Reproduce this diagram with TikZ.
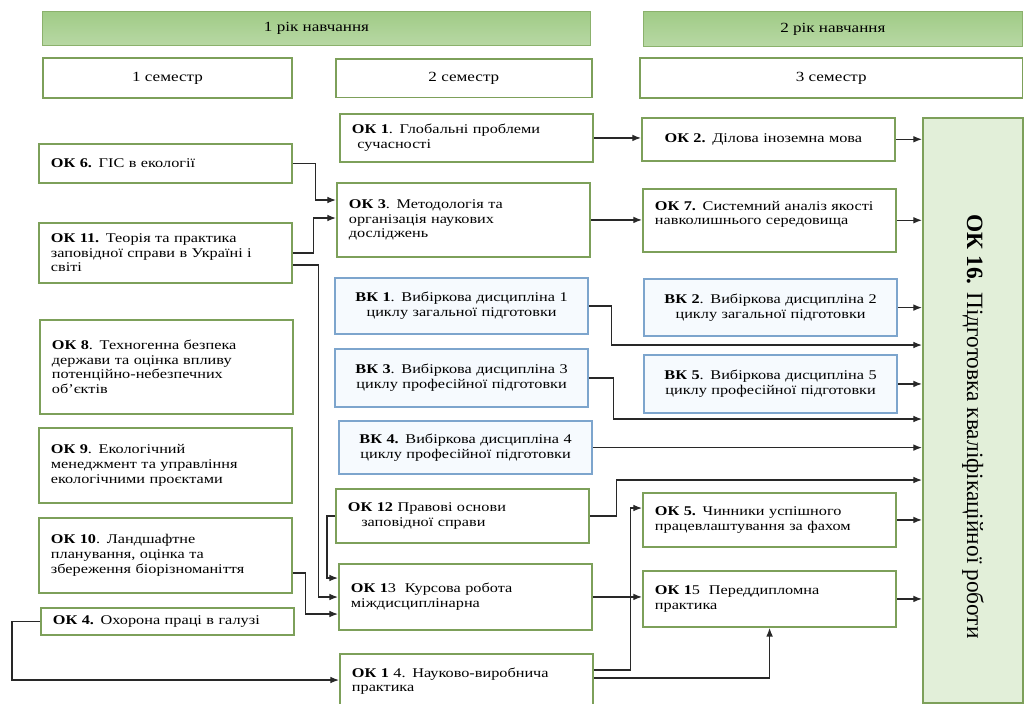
\documentclass[tikz,border=0pt]{standalone}
\usepackage{fontspec}
\usepackage{graphicx}
\setmainfont{Liberation Serif}
\newfontfamily\boxfont{Liberation Serif}[FakeStretch=1.22]
\usetikzlibrary{arrows.meta}
\definecolor{okgreen}{RGB}{125,160,90}
\definecolor{vkblue}{RGB}{125,165,205}
\definecolor{vkfill}{RGB}{246,250,254}
\definecolor{yeargreen}{RGB}{160,203,134}
\definecolor{finalfill}{RGB}{226,239,217}
\definecolor{linegray}{RGB}{40,40,40}
\begin{document}
\begin{tikzpicture}[x=0.75pt,y=-0.75pt,
    every node/.style={inner sep=0pt},
    yearbar/.style={draw=okgreen!60!yeargreen,line width=0.8pt,top color=yeargreen,bottom color=yeargreen!75!white,anchor=north west,font=\boxfont\fontsize{10.5}{12}\selectfont},
    sembox/.style={draw=okgreen,line width=1.3pt,fill=white,anchor=north west,font=\boxfont\fontsize{10.5}{12}\selectfont},
    okbox/.style={draw=okgreen,line width=1.4pt,fill=white,anchor=north west,align=left,text width=172pt,inner xsep=9pt,font=\boxfont\fontsize{10}{11}\selectfont},
    vkbox/.style={okbox,draw=vkblue,fill=vkfill,align=center},
    finalbox/.style={draw=okgreen,line width=1.4pt,fill=finalfill,anchor=north west,minimum width=75pt,minimum height=439pt,font=\fontsize{17.5}{20}\selectfont},
    arr/.style={draw=linegray,line width=0.9pt,-{Latex[length=6.5pt,width=5pt]}}]
    \useasboundingbox (0,0) rectangle (1026,704);

    % years and semesters
    \node[yearbar,minimum width=411pt,minimum height=25.5pt] at (42,11) (year1) {1 рік навчання};
    \node[yearbar,minimum width=284pt,minimum height=26pt] at (643,11) (year2) {2 рік навчання};
    \node[sembox,minimum width=187pt,minimum height=30pt] at (42,57) (sem1) {1 семестр};
    \node[sembox,minimum width=192pt,minimum height=29pt] at (335,58) (sem2) {2 семестр};
    \node[sembox,minimum width=287pt,minimum height=30pt] at (639,57) (sem3) {3 семестр};

    % 1 semester
    \node[okbox,minimum height=29pt] at (38,143) (ok6) {\textbf{ОК 6.} ГІС в екології};
    \node[okbox,minimum height=45pt] at (38,222) (ok11) {\textbf{ОК 11.} Теорія та практика\\ заповідної справи в Україні і\\ світі};
    \node[okbox,minimum height=70.5pt] at (39,319) (ok8) {\textbf{ОК 8}. Техногенна безпека\\ держави та оцінка впливу\\ потенційно-небезпечних\\ об’єктів};
    \node[okbox,minimum height=56pt] at (38,427) (ok9) {\textbf{ОК 9}. Екологічний\\ менеджмент та управління\\ екологічними проєктами};
    \node[okbox,minimum height=56pt] at (38,517) (ok10) {\textbf{ОК 10}. Ландшафтне\\ планування, оцінка та\\ збереження біорізноманіття};
    \node[okbox,minimum height=20pt] at (40,607) (ok4) {\textbf{ОК 4.} Охорона праці в галузі};

    % 2 semester
    \node[okbox,minimum height=36pt] at (339,113) (ok1) {\textbf{ОК 1}. Глобальні проблеми\\ \hspace*{4pt}сучасності};
    \node[okbox,minimum height=55.5pt] at (336,182) (ok3) {\textbf{ОК 3}. Методологія та\\ організація наукових\\ досліджень};
    \node[vkbox,minimum height=42pt] at (334,277) (vk1) {\textbf{ВК 1}. Вибіркова дисципліна 1\\ циклу загальної підготовки};
    \node[vkbox,minimum height=43.5pt] at (334,348) (vk3) {\textbf{ВК 3}. Вибіркова дисципліна 3\\ циклу професійної підготовки};
    \node[vkbox,minimum height=40pt] at (338,420) (vk4) {\textbf{ВК 4.} Вибіркова дисципліна 4\\ циклу професійної підготовки};
    \node[okbox,minimum height=40.5pt] at (335,488) (ok12) {\textbf{ОК 12} Правові основи\\ \hspace*{10pt}заповідної справи};
    \node[okbox,minimum height=49.5pt] at (338,563) (ok13) {\textbf{ОК 1}3\ \ Курсова робота\\ міждисциплінарна};
    \node[okbox,minimum height=41pt] at (339,653) (ok14) {\textbf{ОК 1} 4. Науково-виробнича\\ практика};

    % 3 semester
    \node[okbox,minimum height=32pt] at (641,117) (ok2) {\hspace*{8pt}\textbf{ОК 2.} Ділова іноземна мова};
    \node[okbox,minimum height=47pt] at (642,188) (ok7) {\textbf{ОК 7.} Системний аналіз якості\\ навколишнього середовища\\ \mbox{}};
    \node[vkbox,minimum height=43pt] at (643,278) (vk2) {\textbf{ВК 2}. Вибіркова дисципліна 2\\ циклу загальної підготовки};
    \node[vkbox,minimum height=43.5pt] at (643,354) (vk5) {\textbf{ВК 5}. Вибіркова дисципліна 5\\ циклу професійної підготовки};
    \node[okbox,minimum height=40.5pt] at (642,492) (ok5) {\textbf{ОК 5.} Чинники успішного\\ працевлаштування за фахом};
    \node[okbox,minimum height=42pt] at (642,570) (ok15) {\textbf{ОК 1}5\ \ Переддипломна\\ практика};

    \node[finalbox] at (922,117) (ok16) {\rotatebox{-90}{\hspace*{24pt}\textbf{ОК 16.} Підготовка кваліфікаційної роботи}};

    % links
    \draw[arr] (ok6.east) -- ++(22,0) |- (ok3.west |- 0,200);
    \draw[arr] (ok11.east |- 0,253) -- ++(20,0) |- (ok3.west |- 0,218);
    \draw[arr] (ok11.east |- 0,265) -- ++(25,0) |- (ok13.west |- 0,597);
    \draw[arr] (ok12.west) -- ++(-8,0) |- (ok13.west |- 0,578);
    \draw[arr] (ok10.east |- 0,573) -- ++(12,0) |- (ok13.west |- 0,614);
    \draw[arr] (ok4.west) -- ++(-28,0) |- (ok14.west |- 0,680);

    \draw[arr] (ok1.east) -- (ok1.east -| ok2.west);
    \draw[arr] (ok3.east) -- (ok3.east -| ok7.west);
    \draw[arr] (ok13.east) -- (ok13.east -| ok15.west);
    \draw[arr] (ok14.east |- 0,670) -- ++(36,0) |- (ok5.west |- 0,508);
    \draw[arr] (ok14.east |- 0,678) -| (ok15.south);

    \draw[arr] (vk1.east) -- ++(22,0) |- (ok16.west |- 0,345);
    \draw[arr] (vk3.east) -- ++(24,0) |- (ok16.west |- 0,419);
    \draw[arr] (vk4.east) -- (vk4.east -| ok16.west);
    \draw[arr] (ok12.east) -- ++(26,0) |- (ok16.west |- 0,480);

    \draw[arr] (ok2.east) -- (ok2.east -| ok16.west);
    \draw[arr] (ok7.east) -- (ok7.east -| ok16.west);
    \draw[arr] (vk2.east) -- (vk2.east -| ok16.west);
    \draw[arr] (vk5.east) -- (vk5.east -| ok16.west);
    \draw[arr] (ok5.east) -- (ok5.east -| ok16.west);
    \draw[arr] (ok15.east) -- (ok15.east -| ok16.west);
\end{tikzpicture}
\end{document}
